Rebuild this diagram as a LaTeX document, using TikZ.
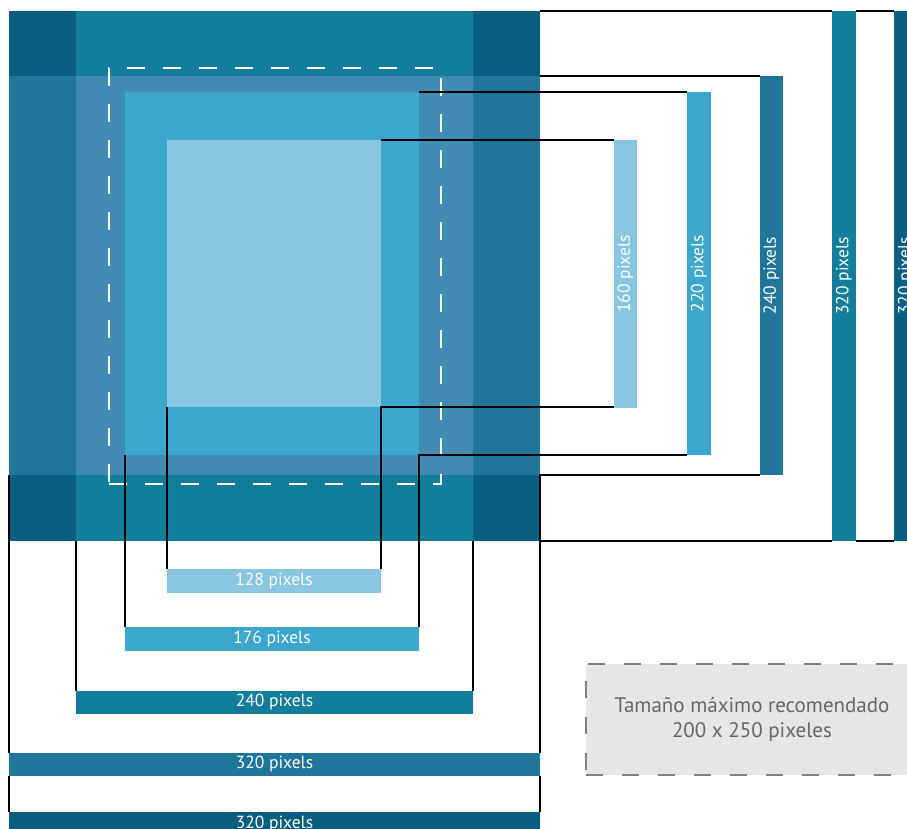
\documentclass[tikz,border=0pt]{standalone}
\usepackage{fontspec}
\setmainfont{PT Sans}
\usepackage{graphicx}
\usepackage{tikz}
\usetikzlibrary{positioning,calc}

\definecolor{azulosc}{RGB}{10,95,128}
\definecolor{azulh}{RGB}{32,118,154}
\definecolor{azulv}{RGB}{19,125,156}
\definecolor{azulmix}{RGB}{66,140,179}
\definecolor{azulmed}{RGB}{60,166,205}
\definecolor{azulcla}{RGB}{136,198,226}
\definecolor{grisfondo}{RGB}{230,230,230}
\definecolor{grisborde}{RGB}{128,128,128}
\definecolor{gristexto}{RGB}{102,102,102}

\begin{document}
\begin{tikzpicture}[x=1pt, y=-1pt,
    capa/.style={rectangle, inner sep=0pt, outer sep=0pt, fill=#1},
    barra/.style={rectangle, inner sep=0pt, outer sep=0pt, fill=#1, text=white, font=\fontsize{17.5}{20}\selectfont},
    guia/.style={draw=black, line width=1.6pt},
    marco/.style={draw=white, line width=2.8pt, dash pattern=on 18pt off 18pt},
    caja/.style={rectangle, fill=grisfondo, draw=grisborde, line width=2pt, dash pattern=on 17pt off 19pt, minimum width=332pt, minimum height=111pt, align=center, text=gristexto, font=\fontsize{21}{25}\selectfont}]

\useasboundingbox (0,0) rectangle (907,829);
\clip (0,0) rectangle (907,829);

% areas
\node[capa=azulosc, minimum width=531pt, minimum height=530pt] (sq320) at (274.5,276) {};
\node[capa=azulh, minimum width=531pt, minimum height=399pt] (bandh) at (274.5,275.5) {};
\node[capa=azulv, minimum width=397pt, minimum height=530pt] (bandv) at (274.5,276) {};
\node[capa=azulmix, minimum width=397pt, minimum height=399pt] (r240) at (274.5,275.5) {};
\node[capa=azulmed, minimum width=294pt, minimum height=363pt] (r176) at (272,273.5) {};
\node[capa=azulcla, minimum width=214pt, minimum height=267pt] (r128) at (274,273.5) {};
\node[marco, rectangle, inner sep=0pt, minimum width=332pt, minimum height=416pt] (seguro) at (275,276) {};

% barras inferiores
\node[barra=azulcla, minimum width=214pt, minimum height=24pt] (b128) at (274,581) {128 pixels};
\node[barra=azulmed, minimum width=294pt, minimum height=24pt] (b176) at (272,639) {176 pixels};
\node[barra=azulv, minimum width=397pt, minimum height=23pt] (b240h) at (274.5,702.5) {240 pixels};
\node[barra=azulh, minimum width=531pt, minimum height=23pt] (b320a) at (274.5,764.5) {320 pixels};
\node[barra=azulosc, minimum width=531pt, minimum height=24pt] (b320b) at (274.5,824) {320 pixels};

% barras laterales
\node[barra=azulcla, minimum width=23pt, minimum height=268pt] (b160) at (625.5,274) {\rotatebox{90}{160 pixels}};
\node[barra=azulmed, minimum width=24pt, minimum height=363pt] (b220) at (699,273.5) {\rotatebox{90}{220 pixels}};
\node[barra=azulh, minimum width=23pt, minimum height=399pt] (b240v) at (771.5,275.5) {\rotatebox{90}{240 pixels}};
\node[barra=azulv, minimum width=24pt, minimum height=530pt] (b320c) at (844,276) {\rotatebox{90}{320 pixels}};
\node[barra=azulosc, minimum width=24pt, minimum height=530pt] (b320d) at (906,276) {\rotatebox{90}{320 pixels}};

% guias
\draw[guia] (r128.south west) -- (b128.north west);
\draw[guia] (b128.north east) -- (r128.south east) -- (r128.south east -| b160.west);
\draw[guia] (r128.north east) -- (r128.north east -| b160.west);
\draw[guia] (r176.south west) -- (b176.north west);
\draw[guia] (b176.north east) -- (r176.south east) -- (r176.south east -| b220.west);
\draw[guia] (r176.north east) -- (r176.north east -| b220.west);
\draw[guia] (bandv.south west) -- (b240h.north west);
\draw[guia] (bandv.south east) -- (b240h.north east);
\draw[guia] (bandh.north east) -- (bandh.north east -| b240v.west);
\draw[guia] (bandh.south west) -- (b320a.north west);
\draw[guia] (b320a.north east) -- (bandh.south east) -- (bandh.south east -| b240v.west);
\draw[guia] (b320a.south west) -- (b320b.north west);
\draw[guia] (b320a.south east) -- (b320b.north east);
\draw[guia] (sq320.north east) -- (sq320.north east -| b320c.west);
\draw[guia] (sq320.south east) -- (sq320.south east -| b320c.west);
\draw[guia] (b320c.north east) -- (b320d.north west);
\draw[guia] (b320c.south east) -- (b320d.south west);

% nota
\node[caja] (maximo) at (752,719.5) {Tamaño máximo recomendado\\200 x 250 pixeles};
\end{tikzpicture}
\end{document}
